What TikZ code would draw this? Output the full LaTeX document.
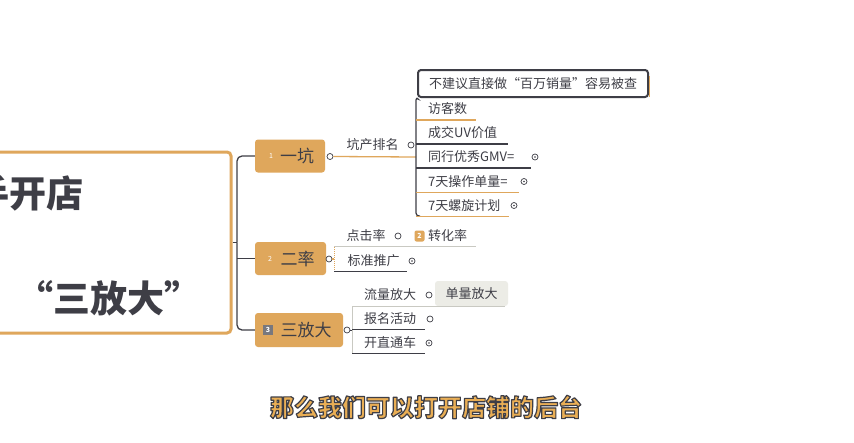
\documentclass[tikz,border=0pt]{standalone}
\usepackage{fontspec}
\setmainfont{Noto Sans CJK SC}
\definecolor{org}{HTML}{DFA75C}
\definecolor{suborg}{HTML}{E9AE55}
\definecolor{ink}{HTML}{3E3E46}
\definecolor{lgray}{HTML}{C9C9C2}
\definecolor{boxgray}{HTML}{ECECE6}
\tikzset{
  txt/.style={font=\fontsize{13}{13}\selectfont, text=ink, inner sep=0},
  bnode/.style={fill=org, rounded corners=3, inner sep=0, font=\fontsize{17}{17}\selectfont, text=ink},
  big/.style={font=\fontsize{37}{37}\selectfont\bfseries, text=ink, inner sep=0},
  dline/.style={draw=ink, line width=1.3},
  oline/.style={draw=org, line width=1.3},
  gline/.style={draw=lgray, line width=1},
  knob/.style={circle, draw=ink, line width=0.7, fill=white, minimum size=6, inner sep=0},
  pknob/.style={knob, path picture={\fill[ink] (path picture bounding box.center) circle (0.9pt);}},
  sub/.style={font=\fontsize{24}{24}\selectfont\bfseries, inner sep=0},
}
\newcommand{\outlined}[1]{\special{pdf:literal direct q 2 Tr 1.2 w 1 j 0.243 0.243 0.275 RG}#1\special{pdf:literal direct Q}}
\begin{document}
\begin{tikzpicture}[x=1pt,y=-1pt]
\useasboundingbox (0,0) rectangle (854,442);
\fill[white] (0,0) rectangle (854,442);

% root
\node[draw=org, line width=3, rounded corners=4, minimum width=251, minimum height=181, inner sep=0] (root) at (105.5,242.5) {};
\node[big] (t1) at (28,193) {手开店};
\node[big] (t2) at (109,298) {“三放大”};

% branch nodes
\node[bnode, minimum width=70, minimum height=33] (n1) at (290,156) {\hspace*{14pt}一坑};
\node[bnode, minimum width=71, minimum height=33] (n2) at (290.5,258.5) {\hspace*{14pt}二率};
\node[bnode, minimum width=88, minimum height=34] (n3) at (299,330) {\hspace*{14pt}三放大};
\node[font=\fontsize{7}{7}\selectfont, text=white, inner sep=0] (i1) at (271,156) {1};
\node[font=\fontsize{7}{7}\selectfont, text=white, inner sep=0] (i2) at (270,258.5) {2};
\node[fill=ink!70, minimum size=10, inner sep=0, font=\fontsize{7}{7}\selectfont\bfseries, text=white] (i3) at (268,330) {3};

% root connectors
\coordinate (rj) at (237,242.5);
\draw[dline] (root.east) -- (rj);
\draw[dline, rounded corners=5] (n1.west) -| (rj);
\draw[dline, rounded corners=5] (n3.west) -| (rj);
\draw[dline] (n2.west) -- (n2.west -| rj);

% ---- branch 1
\node[knob] (c1) at (330,156.5) {};
\node[txt] (k) at (372.5,145) {坑产排名};
\node[knob] (kc) at (411,145) {};
\coordinate (kj) at (416,157);
\draw[oline] (c1.east) -- (kj);

\node[txt, draw=ink, line width=2, rounded corners=3, fill=white, minimum width=230, minimum height=27] (q) at (533,83.5) {不建议直接做“百万销量”容易被查};
\draw[org, line width=1.2] (649.5,76) -- (649.5,97);
\node[txt, anchor=west] (a1) at (428,109) {访客数};
\node[txt, anchor=west] (a2) at (428,133) {成交UV价值};
\node[txt, anchor=west] (a3) at (428,157) {同行优秀GMV=};
\node[txt, anchor=west] (a4) at (428,181.5) {7天操作单量=};
\node[txt, anchor=west] (a5) at (428,205.5) {7天螺旋计划};
\node[pknob] (a3c) at (535,157) {};
\node[pknob] (a4c) at (524,181.5) {};
\node[pknob] (a5c) at (514,205.5) {};
\draw[dline, line width=1.2, rounded corners=3] (q.south west) -- (416,97) -- (416,216) -- (420,216);
\draw[oline] (416,120) -- (476,120);
\draw[dline, line width=1.2] (416,144) -- (508,144);
\draw[dline, line width=1.2] (416,168) -- (531,168);
\draw[oline] (416,192.5) -- (519,192.5);
\draw[oline] (416,216.5) -- (509,216.5);

% ---- branch 2
\node[knob] (c2) at (329,259) {};
\coordinate (bj2) at (334,259);
\draw[oline] (c2.east) -- (bj2);
\node[txt] (b1) at (366,236) {点击率};
\node[knob] (b1c) at (398,236) {};
\node[fill=org, rounded corners=2, minimum width=10, minimum height=11, inner sep=0, font=\fontsize{7}{7}\selectfont\bfseries, text=white] (i22) at (419.5,236) {2};
\node[txt] (b2) at (447.5,236) {转化率};
\node[txt] (b3) at (373.5,261) {标准推广};
\node[pknob] (b3c) at (412,261) {};
\draw[org, line width=1, densely dotted] (334,247) -- (334,271);
\draw[gline] (334,246.5) -- (476,246.5);
\draw[dline, line width=1.2] (334,271.5) -- (407,271.5);

% ---- branch 3
\node[knob] (c3) at (347,330) {};
\coordinate (bj3) at (352,330);
\draw[dline, line width=1] (c3.east) -- (bj3);
\node[txt] (d1) at (390,295) {流量放大};
\node[knob] (d1c) at (429,295) {};
\node[txt, fill=boxgray, rounded corners=3, minimum width=73, minimum height=25] (d1b) at (471.5,293.5) {单量放大};
\node[txt] (d2) at (390,319) {报名活动};
\node[knob] (d2c) at (430,319) {};
\node[txt] (d3) at (390,343) {开直通车};
\node[pknob] (d3c) at (429,343) {};
\draw[gline] (352,306.5) -- (352,353);
\draw[gline] (352,306.5) -- (505,306.5);
\draw[dline, line width=1.2] (352,329.5) -- (425,329.5);
\draw[dline, line width=1.2] (352,353.5) -- (425,353.5);

% subtitle
\node[sub, text=suborg] (subt) at (426,407) {\outlined{那么我们可以打开店铺的后台}};
\end{tikzpicture}
\end{document}
